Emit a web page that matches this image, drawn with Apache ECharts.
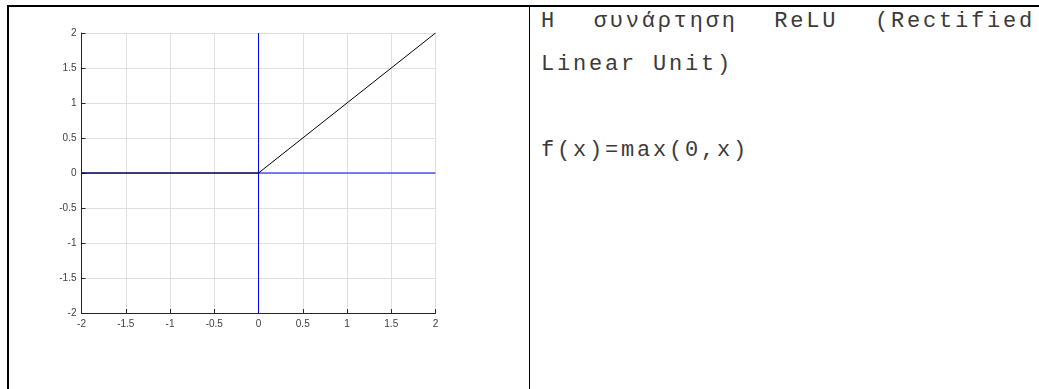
<!DOCTYPE html>
<html>
<head>
<meta charset="utf-8">
<script src="https://cdn.jsdelivr.net/npm/echarts@6/dist/echarts.min.js"></script>
<style>
  html, body { margin: 0; padding: 0; background: #fff; }
  body { width: 1039px; height: 389px; position: relative; overflow: hidden; }
  .border-top { position: absolute; left: 7px; top: 5px; width: 1032px; height: 2px; background: #000; }
  .border-left { position: absolute; left: 7px; top: 5px; width: 2px; height: 384px; background: #000; }
  .divider { position: absolute; left: 529px; top: 5px; width: 1px; height: 384px; background: #000; }
  #chart { position: absolute; left: 0; top: 0; width: 528px; height: 389px; }
  .cell-text {
    position: absolute; left: 541px; top: 0; width: 494px;
    font-family: "Liberation Mono", monospace; font-size: 22px;
    letter-spacing: 2.8px; line-height: 43px; color: #3a3a3a;
    text-align: justify;
  }
  .cell-text p { margin: 0; }
  .cell-text p + p { margin-top: 43px; }
</style>
</head>
<body>
<div class="border-top"></div>
<div class="border-left"></div>
<div class="divider"></div>
<div id="chart"></div>
<div class="cell-text">
  <p>Η συνάρτηση ReLU (Rectified Linear Unit)</p>
  <p>f(x)=max(0,x)</p>
</div>
<script>
// ReLU curve: f(x) = max(0, x) sampled at its breakpoints
const reluX = [-2, 0, 2];
const reluY = [0, 0, 2];
// Coordinate axes drawn in blue through the origin
const hAxisX = [-2, 2];
const hAxisY = [0, 0];
const vAxisX = [0, 0];
const vAxisY = [-2, 2];
// Axis limits and tick step
const axisMin = -2;
const axisMax = 2;
const tickStep = 0.5;

const pairs = (xs, ys) => xs.map((x, i) => [x, ys[i]]);

const axisCommon = {
  type: 'value',
  min: axisMin,
  max: axisMax,
  interval: tickStep,
  axisLine: { show: true, onZero: false, lineStyle: { color: '#262626', width: 1 } },
  axisTick: { show: true, inside: true, length: 4, lineStyle: { color: '#262626' } },
  splitLine: { show: true, lineStyle: { color: '#dfdfdf', width: 1 } },
  axisLabel: {
    color: '#404040', fontSize: 10, fontFamily: 'Liberation Sans, Arial, sans-serif',
    showMinLabel: true, showMaxLabel: true,
    formatter: v => String(v)
  }
};

const chart = echarts.init(document.getElementById('chart'), null, { renderer: 'canvas' });
chart.setOption({
  animation: false,
  backgroundColor: 'transparent',
  grid: { left: 81.5, top: 33, width: 354, height: 280, containLabel: false },
  xAxis: Object.assign({}, axisCommon, {
    axisLabel: Object.assign({}, axisCommon.axisLabel, { margin: 6 })
  }),
  yAxis: Object.assign({}, axisCommon, {
    axisLabel: Object.assign({}, axisCommon.axisLabel, { margin: 5 })
  }),
  series: [
    {
      name: 'x-axis', type: 'line', data: pairs(hAxisX, hAxisY),
      symbol: 'none', lineStyle: { color: '#0000ff', width: 1 }, z: 2
    },
    {
      name: 'y-axis', type: 'line', data: pairs(vAxisX, vAxisY),
      symbol: 'none', lineStyle: { color: '#0000ff', width: 1 }, z: 2
    },
    {
      name: 'ReLU', type: 'line', data: pairs(reluX, reluY),
      symbol: 'none', lineStyle: { color: '#000000', width: 1 }, z: 3
    }
  ]
});
</script>
</body>
</html>
